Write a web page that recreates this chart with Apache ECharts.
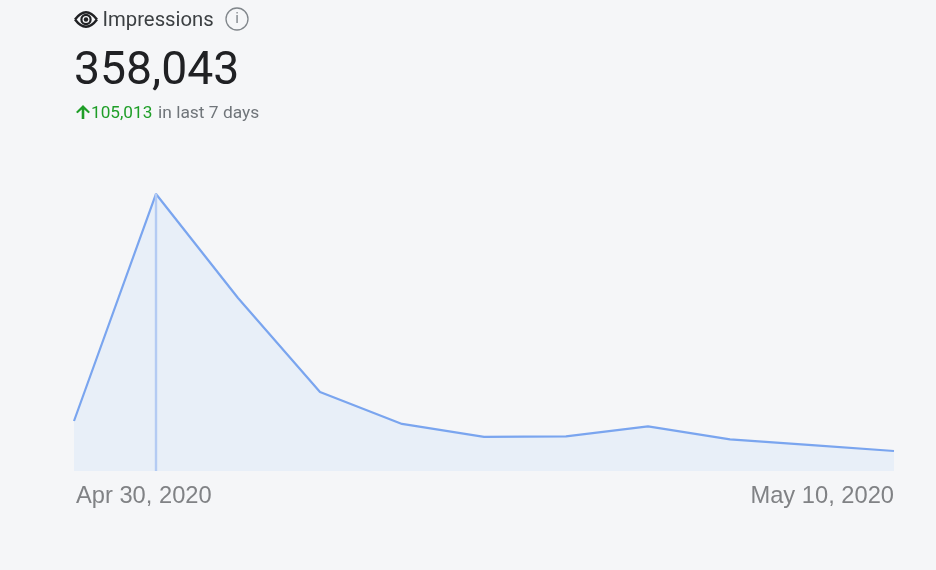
<!DOCTYPE html>
<html><head><meta charset="utf-8">
<style>html,body{margin:0;padding:0;background:#f5f6f8}#c{width:936px;height:570px}</style>
<script src="https://cdn.jsdelivr.net/npm/echarts@6/dist/echarts.min.js"></script>
</head><body><div id="c"></div>
<script>
const dates = ['Apr 30, 2020','May 1, 2020','May 2, 2020','May 3, 2020','May 4, 2020','May 5, 2020','May 6, 2020','May 7, 2020','May 8, 2020','May 9, 2020','May 10, 2020'];
const impressions = [22000,121900,76100,34800,20700,15000,15200,19600,13900,11400,8800];
const highlightDate = 'May 1, 2020';
const metricName = 'Impressions';
const totalText = '358,043';
const deltaText = '105,013';
const deltaSuffix = 'in last 7 days';

const chart = echarts.init(document.getElementById('c'), null, {renderer:'canvas'});
const t = (x,y,text,font,fill,extra) => ({type:'text',x,y,silent:true,style:Object.assign({text,font,fill,textVerticalAlign:'middle'},extra||{})});
const ink = '#202124', green = '#1e9e27';
chart.setOption({
  backgroundColor:'#f5f6f8',
  animation:false,
  grid:{left:74,right:42,top:171,bottom:99},
  xAxis:{type:'category',data:dates,boundaryGap:false,
    axisLine:{show:false},axisTick:{show:false},splitLine:{show:false},
    axisLabel:{color:'#808285',fontFamily:'Liberation Sans',fontSize:23.7,margin:13,padding:[0,0,0,2],
      showMinLabel:true,showMaxLabel:true,alignMinLabel:'left',alignMaxLabel:'right',
      interval:(i)=>i===0||i===dates.length-1}},
  yAxis:{type:'value',min:0,max:132000,show:false},
  series:[{type:'line',data:impressions,smooth:false,showSymbol:false,symbol:'none',
    lineStyle:{color:'#7aa5ef',width:2.2},
    areaStyle:{color:'#e8eff8',opacity:1},
    markLine:{silent:true,symbol:'none',label:{show:false},
      lineStyle:{color:'#b4cbf3',width:2.4,type:'solid'},
      data:[[{xAxis:highlightDate,yAxis:0},{xAxis:highlightDate,yAxis:impressions[dates.indexOf(highlightDate)]}]]}}],
  graphic:{elements:[
    {type:'bezierCurve',silent:true,shape:{x1:75,y1:19.5,x2:97,y2:19.5,cpx1:86,cpy1:5},style:{fill:'none',stroke:ink,lineWidth:2.4}},
    {type:'bezierCurve',silent:true,shape:{x1:75,y1:19.5,x2:97,y2:19.5,cpx1:86,cpy1:34},style:{fill:'none',stroke:ink,lineWidth:2.4}},
    {type:'circle',silent:true,shape:{cx:86,cy:19.5,r:4.6},style:{fill:'none',stroke:ink,lineWidth:2.2}},
    {type:'circle',silent:true,shape:{cx:86,cy:19.5,r:2.2},style:{fill:ink}},
    t(102.5,20.5,metricName,'400 20.3px Roboto','#3c4043'),
    {type:'circle',silent:true,shape:{cx:237,cy:19,r:11},style:{fill:'none',stroke:'#80868b',lineWidth:1.3}},
    t(237,19.5,'i','400 15px Roboto','#80868b',{textAlign:'center'}),
    t(74,72.5,totalText,'400 46.3px Roboto',ink),
    {type:'polygon',silent:true,shape:{points:[[83,105],[90,112],[88.4,113.2],[84.3,109.5],[84.3,119],[81.7,119],[81.7,109.5],[77.6,113.2],[76,112]]},style:{fill:green}},
    t(91,113.5,deltaText,'400 17.2px Roboto',green),
    t(158,113.5,deltaSuffix,'400 17.4px Roboto','#70757a')
  ]}
});
</script></body></html>
